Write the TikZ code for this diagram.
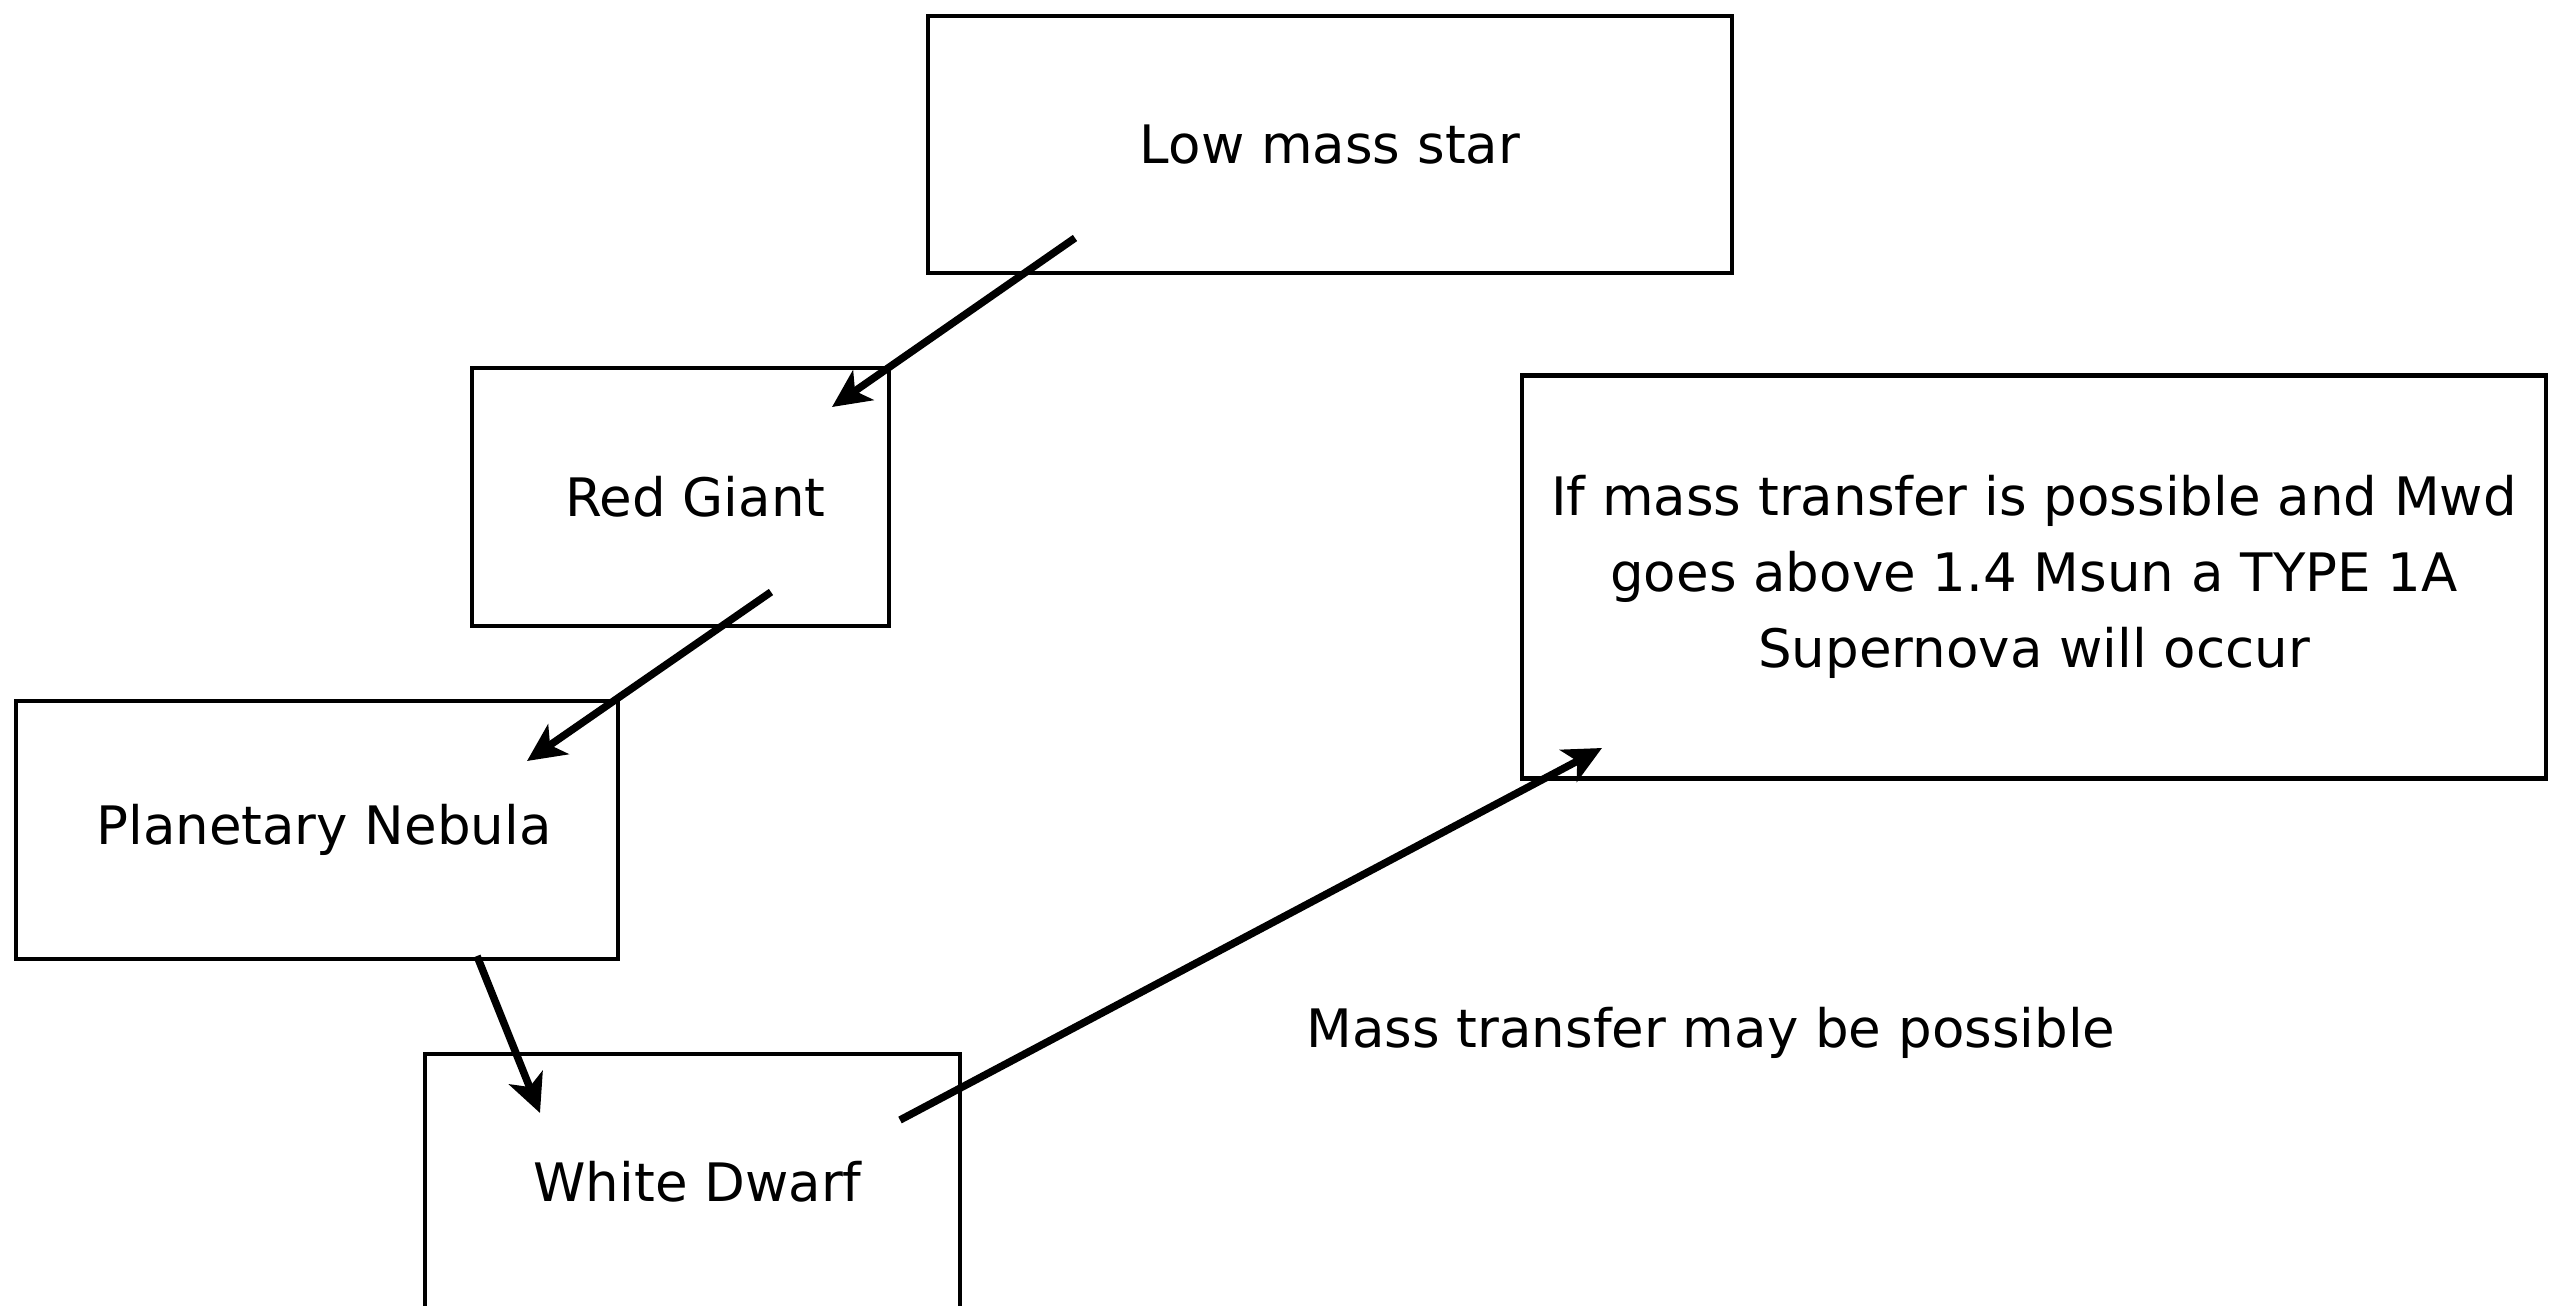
\documentclass[tikz,border=0pt]{standalone}
\usepackage{fontspec}
\setmainfont{DejaVu Sans}
\usetikzlibrary{arrows.meta}
\begin{document}
\begin{tikzpicture}[x=1pt,y=-1pt,
  box/.style={draw, line width=4.5pt, inner sep=0pt, align=center, font=\fontsize{53}{76}\selectfont},
  arr/.style={line width=7.5pt, -{Stealth[length=38pt,width=36pt,inset=10pt]}},
  lbl/.style={inner sep=0pt, font=\fontsize{53}{76}\selectfont}]
\useasboundingbox (0,0) rectangle (2562,1306);
\node[box, minimum width=804pt, minimum height=257pt] (low) at (1330,144.5) {Low mass star};
\node[box, minimum width=417pt, minimum height=258pt] (rg) at (680.5,497) {\hspace*{30pt}Red Giant};
\node[box, minimum width=602pt, minimum height=258pt] (pn) at (317,830) {\hspace*{14pt}Planetary Nebula};
\node[box, minimum width=535pt, minimum height=256pt] (wd) at (692.5,1182) {\hspace*{10pt}White Dwarf};
\node[box, minimum width=1024pt, minimum height=403pt] (sn) at (2034,577) {If mass transfer is possible and Mwd\\goes above 1.4 Msun a TYPE 1A\\Supernova will occur};
\node[lbl] (mt) at (1711,1033) {Mass transfer may be possible};
\coordinate (a1s) at (1075,238);
\coordinate (a1e) at (832,407);
\coordinate (a2s) at (771,592);
\coordinate (a2e) at (527,761);
\coordinate (a3s) at (477,956);
\coordinate (a3e) at (540,1113);
\coordinate (a4s) at (900,1120);
\coordinate (a4e) at (1602,748);
\draw[arr] (a1s) -- (a1e);
\draw[arr] (a2s) -- (a2e);
\draw[arr] (a3s) -- (a3e);
\draw[arr] (a4s) -- (a4e);
\end{tikzpicture}
\end{document}
